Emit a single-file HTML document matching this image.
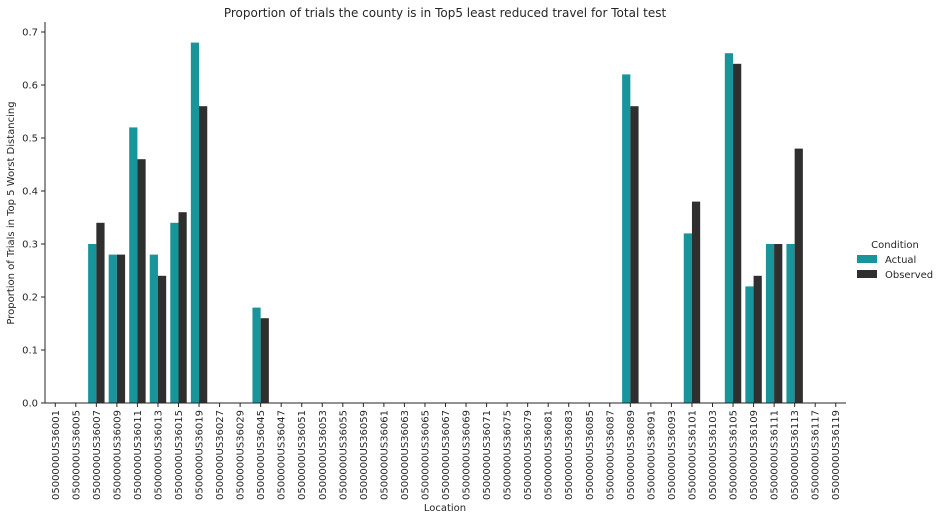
<!DOCTYPE html>
<html><head><meta charset="utf-8"><style>
body{margin:0;background:#fff;font-family:"DejaVu Sans",sans-serif;}
svg text{font-family:"DejaVu Sans",sans-serif;fill:#262626;}
</style></head><body>
<svg id="c" width="941" height="520"></svg>
<script>
const categories=["0500000US36001","0500000US36005","0500000US36007","0500000US36009","0500000US36011","0500000US36013","0500000US36015","0500000US36019","0500000US36027","0500000US36029","0500000US36045","0500000US36047","0500000US36051","0500000US36053","0500000US36055","0500000US36059","0500000US36061","0500000US36063","0500000US36065","0500000US36067","0500000US36069","0500000US36071","0500000US36075","0500000US36079","0500000US36081","0500000US36083","0500000US36085","0500000US36087","0500000US36089","0500000US36091","0500000US36093","0500000US36101","0500000US36103","0500000US36105","0500000US36109","0500000US36111","0500000US36113","0500000US36117","0500000US36119"];
const actual=[0,0,0.30,0.28,0.52,0.28,0.34,0.68,0,0,0.18,0,0,0,0,0,0,0,0,0,0,0,0,0,0,0,0,0,0.62,0,0,0.32,0,0.66,0.22,0.30,0.30,0,0];
const observed=[0,0,0.34,0.28,0.46,0.24,0.36,0.56,0,0,0.16,0,0,0,0,0,0,0,0,0,0,0,0,0,0,0,0,0,0.56,0,0,0.38,0,0.64,0.24,0.30,0.48,0,0];
const yTicks=[0,0.1,0.2,0.3,0.4,0.5,0.6,0.7];
const seriesNames=["Actual","Observed"];
const colors=["#17959b","#2f2f2f"];
const NS="http://www.w3.org/2000/svg";
const svg=document.getElementById('c');
const X0=45,X1=846,Y0=403,Ytop=32;
const bw=(X1-X0)/categories.length;
const y=v=>Y0-(v/0.7)*(Y0-Ytop);
const x=i=>X0+i*bw;
function mk(t,a,txt){const e=document.createElementNS(NS,t);for(const k in a)e.setAttribute(k,a[k]);if(txt!==undefined)e.textContent=txt;svg.appendChild(e);return e;}
const title=mk('text',{x:445,y:17,'text-anchor':'middle','font-size':12},'Proportion of trials the county is in Top5 least reduced travel for Total test');


[actual,observed].forEach((s,si)=>{s.forEach((v,i)=>{if(v<=0)return;
const r=mk('rect',{x:x(i)+bw*0.1+si*bw*0.4,y:y(v),width:bw*0.4,height:Y0-y(v),fill:colors[si]});

});});
const ax=mk('line',{x1:X0,y1:Ytop-10,x2:X0,y2:Y0,stroke:'#262626','stroke-width':1});


const bx=mk('line',{x1:X0,y1:Y0,x2:X1,y2:Y0,stroke:'#262626','stroke-width':1});


yTicks.forEach(t=>{mk('line',{x1:X0-4,y1:y(t),x2:X0,y2:y(t),stroke:'#262626'});
const l=mk('text',{x:X0-7,y:y(t)+3.5,'text-anchor':'end','font-size':10},t.toFixed(1));

});
categories.forEach((c,i)=>{const cx=x(i)+bw/2;mk('line',{x1:cx,y1:Y0,x2:cx,y2:Y0+4,stroke:'#262626'});
const l=mk('text',{x:0,y:0,'text-anchor':'end','font-size':10,transform:`translate(${cx+3.5},${Y0+7}) rotate(-90)`},c);

});
const xt=mk('text',{x:445,y:511,'text-anchor':'middle','font-size':10},'Location');


const yt=mk('text',{x:0,y:0,'text-anchor':'middle','font-size':10,transform:'translate(14,213) rotate(-90)'},'Proportion of Trials in Top 5 Worst Distancing');


const lt=mk('text',{x:895,y:248,'text-anchor':'middle','font-size':10},'Condition');


seriesNames.forEach((n,i)=>{const yy=255+i*15;
const p=mk('rect',{x:857,y:yy,width:20,height:8,fill:colors[i]});


const t=mk('text',{x:885,y:yy+8,'font-size':10},n);

});
</script>
</body></html>
